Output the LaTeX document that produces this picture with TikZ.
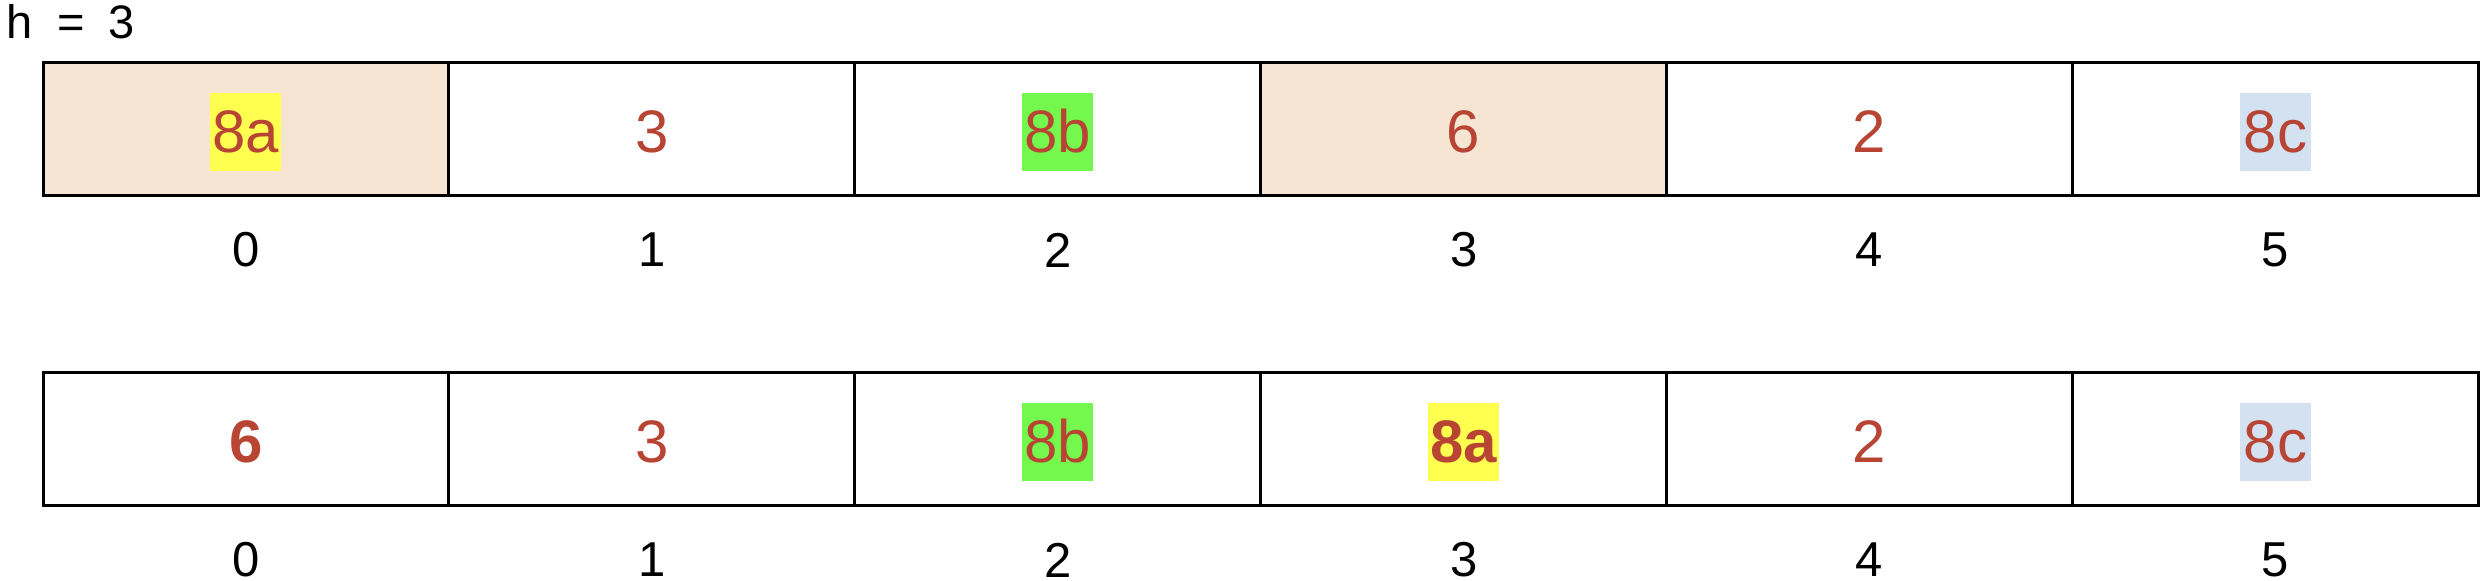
\documentclass[tikz,border=0pt]{standalone}
\usepackage{fontspec}
\setmainfont{Liberation Sans}
\definecolor{txtred}{HTML}{B84534}
\definecolor{beige}{HTML}{F7E5D3}
\definecolor{hlyellow}{HTML}{FFFF50}
\definecolor{hlgreen}{HTML}{74F84E}
\definecolor{hlblue}{HTML}{D3E1F0}
\begin{document}
\begin{tikzpicture}[x=0.5pt,y=-0.5pt,
  cell/.style={draw=black,line width=1.5pt,minimum width=202.95pt,minimum height=66.5pt,inner sep=0pt,anchor=center},
  val/.style={text=txtred,font=\fontsize{30}{36}\selectfont,inner sep=0pt,yshift=-1.5pt},
  hl/.style={val,minimum width=35.5pt,minimum height=39pt},
  idx/.style={font=\fontsize{24.5}{29}\selectfont,inner sep=0pt}]
\useasboundingbox (0,0) rectangle (2482,580);
\node[anchor=west,font=\fontsize{23.5}{28}\selectfont,inner sep=0pt] (h) at (6,22) {h\hspace{12.5pt}=\hspace{12pt}3};
% top row
\foreach \i/\f in {0/beige,1/white,2/white,3/beige,4/white,5/white}{
  \node[cell,fill=\f] (a\i) at ({43+405.9*\i+202.95},128.5) {};
  \node[idx] (ai\i) at ({43+405.9*\i+202.95},250) {\i};
}
\node[hl,fill=hlyellow] (av0) at (a0) {8a};
\node[val] (av1) at (a1) {3};
\node[hl,fill=hlgreen] (av2) at (a2) {8b};
\node[val] (av3) at (a3) {6};
\node[val] (av4) at (a4) {2};
\node[hl,fill=hlblue] (av5) at (a5) {8c};
% bottom row
\foreach \i in {0,...,5}{
  \node[cell,fill=white] (b\i) at ({43+405.9*\i+202.95},438.5) {};
  \node[idx] (bi\i) at ({43+405.9*\i+202.95},560) {\i};
}
\node[val] (bv0) at (b0) {\bfseries 6};
\node[val] (bv1) at (b1) {3};
\node[hl,fill=hlgreen] (bv2) at (b2) {8b};
\node[hl,fill=hlyellow] (bv3) at (b3) {\bfseries 8a};
\node[val] (bv4) at (b4) {2};
\node[hl,fill=hlblue] (bv5) at (b5) {8c};
\end{tikzpicture}
\end{document}
